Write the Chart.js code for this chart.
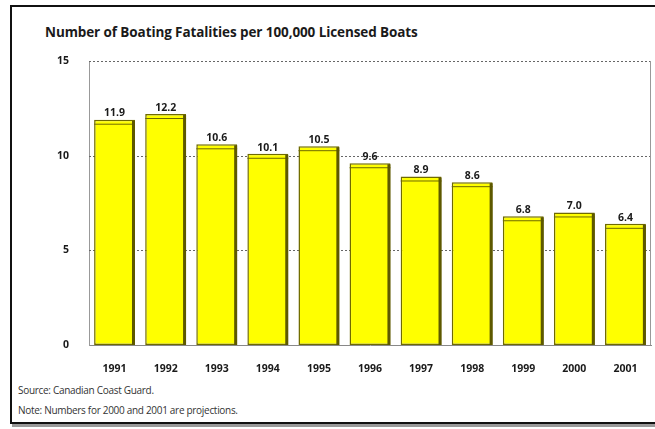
<!DOCTYPE html>
<html>
<head>
<meta charset="utf-8">
<script src="https://cdn.jsdelivr.net/npm/chart.js@4"></script>
<style>
  html, body { margin: 0; padding: 0; background: #fff; }
  body { width: 655px; height: 429px; position: relative; overflow: hidden; font-family: "Open Sans", "DejaVu Sans", sans-serif; }
  #frame { position: absolute; left: 10px; top: 5px; width: 660px; height: 415px; border: 2px solid #111; box-shadow: 2px 3px 0 #999; }
  #title { position: absolute; left: 45px; top: 23px; font-size: 13.5px; font-weight: bold; color: #1a1a1a; letter-spacing: -0.1px; }
  .note { position: absolute; left: 18px; font-size: 10px; color: #333; letter-spacing: -0.3px; }
  #chartBox { position: absolute; left: 0; top: 0; width: 655px; height: 429px; }
</style>
</head>
<body>
<div id="frame"></div>
<div id="title">Number of Boating Fatalities per 100,000 Licensed Boats</div>
<div class="note" style="top:383px">Source: Canadian Coast Guard.</div>
<div class="note" style="top:403px">Note: Numbers for 2000 and 2001 are projections.</div>
<div id="chartBox"><canvas id="myChart"></canvas></div>
<script>
const years = ["1991", "1992", "1993", "1994", "1995", "1996", "1997", "1998", "1999", "2000", "2001"];
const fatalities = [11.9, 12.2, 10.6, 10.1, 10.5, 9.6, 8.9, 8.6, 6.8, 7.0, 6.4];
const yTicks = [0, 5, 10, 15];

// dashed gridlines + right edge of the plot
const dashGrid = {
  id: "dashGrid",
  beforeDatasetsDraw(chart) {
    const { ctx, chartArea, scales } = chart;
    ctx.save();
    ctx.strokeStyle = "#666";
    ctx.lineWidth = 1;
    ctx.setLineDash([2, 2]);
    yTicks.slice(1).forEach(v => {
      const y = Math.round(scales.y.getPixelForValue(v)) + 0.5;
      ctx.beginPath();
      ctx.moveTo(chartArea.left, y);
      ctx.lineTo(chartArea.right, y);
      ctx.stroke();
    });
    ctx.setLineDash([]);
    ctx.strokeStyle = "#999";
    ctx.beginPath();
    ctx.moveTo(Math.round(chartArea.right) - 0.5, chartArea.top);
    ctx.lineTo(Math.round(chartArea.right) - 0.5, chartArea.bottom);
    ctx.stroke();
    ctx.restore();
  }
};

// value labels + top face / dark side of each bar
const barDecor = {
  id: "barDecor",
  afterDatasetsDraw(chart) {
    const ctx = chart.ctx;
    const meta = chart.getDatasetMeta(0);
    ctx.save();
    meta.data.forEach((bar, i) => {
      const left = bar.x - bar.width / 2;
      const right = bar.x + bar.width / 2;
      ctx.strokeStyle = "#6f6a00";
      ctx.lineWidth = 1;
      ctx.beginPath();
      ctx.moveTo(left, bar.y + 4.5);
      ctx.lineTo(right, bar.y + 4.5);
      ctx.stroke();
      ctx.fillStyle = "#5d5800";
      ctx.fillRect(right - 3, bar.y + 1, 3, bar.base - bar.y - 1);
      ctx.fillStyle = "#1a1a1a";
      ctx.font = "bold 10.5px 'Open Sans', sans-serif";
      ctx.textAlign = "center";
      ctx.textBaseline = "bottom";
      ctx.fillText(fatalities[i].toFixed(1), bar.x, bar.y - 1);
    });
    ctx.restore();
  }
};

const data = {
  labels: years,
  datasets: [
    {
      data: fatalities,
      backgroundColor: "#ffff00",
      borderColor: "#6f6a00",
      borderWidth: 1.5,
      borderSkipped: false,
      barPercentage: 0.8,
      categoryPercentage: 1,
    },
  ],
};

const options = {
  responsive: false,
  animation: false,
  layout: { padding: { left: 0, right: 4, top: 61, bottom: 0 } },
  plugins: {
    legend: { display: false },
    tooltip: { enabled: false },
  },
  scales: {
    x: {
      afterFit: (s) => { s.height = 84; },
      grid: { display: false },
      border: { color: "#888", width: 1 },
      ticks: { color: "#1a1a1a", font: { size: 10.5, weight: "bold" }, padding: 10 },
    },
    y: {
      min: 0,
      max: 15,
      afterFit: (s) => { s.width = 89; },
      afterBuildTicks: (s) => { s.ticks = yTicks.map(v => ({ value: v })); },
      grid: { display: false },
      border: { color: "#999", width: 1 },
      ticks: { color: "#1a1a1a", font: { size: 10.5, weight: "bold" }, padding: 12 },
    },
  },
};

Chart.defaults.font.family = "'Open Sans', 'DejaVu Sans', sans-serif";

const canvas = document.getElementById("myChart");
canvas.width = 655;
canvas.height = 429;

const config = {
  type: "bar",
  data: data,
  options,
  plugins: [dashGrid, barDecor],
};

const myChart = new Chart(canvas, config);
</script>
</body>
</html>
